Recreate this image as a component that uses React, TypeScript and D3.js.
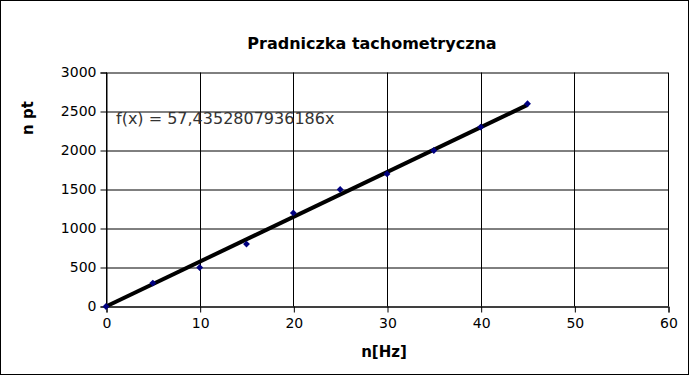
import React, { useRef, useEffect } from "react";
import * as d3 from "d3";

const freq = [0, 5, 10, 15, 20, 25, 30, 35, 40, 45];
const voltage = [0, 300, 500, 800, 1200, 1500, 1700, 2000, 2300, 2600];
const slope = 57.4352807936186;
const xTicks = [0, 10, 20, 30, 40, 50, 60];
const yTicks = [0, 500, 1000, 1500, 2000, 2500, 3000];

const W = 689;
const H = 375;

const App = () => {
  const svgRef = useRef<SVGSVGElement>(null);

  useEffect(() => {
    const margin = { top: 72.5, right: 21, bottom: 68.5, left: 106 };
    const width = W - margin.left - margin.right;
    const height = H - margin.top - margin.bottom;
    const font = "DejaVu Sans, sans-serif";

    const svg = d3.select(svgRef.current);
    svg.selectAll("*").remove();

    // frame around the whole chart
    svg
      .append("rect")
      .attr("x", 0.5)
      .attr("y", 0.5)
      .attr("width", W - 1)
      .attr("height", H - 1)
      .attr("fill", "white")
      .attr("stroke", "black");

    const x = d3.scaleLinear().domain([0, 60]).range([0, width]);
    const y = d3.scaleLinear().domain([0, 3000]).range([height, 0]);

    const g = svg
      .append("g")
      .attr("transform", `translate(${margin.left},${margin.top})`);

    // grid
    g.append("g")
      .selectAll("line")
      .data(yTicks)
      .join("line")
      .attr("x1", 0)
      .attr("x2", width)
      .attr("y1", (d) => Math.round(y(d)) + 0.5)
      .attr("y2", (d) => Math.round(y(d)) + 0.5)
      .attr("stroke", "black");
    g.append("g")
      .selectAll("line")
      .data(xTicks)
      .join("line")
      .attr("y1", 0)
      .attr("y2", height)
      .attr("x1", (d) => Math.round(x(d)) + 0.5)
      .attr("x2", (d) => Math.round(x(d)) + 0.5)
      .attr("stroke", "black");

    const xAxis = g
      .append("g")
      .attr("transform", `translate(0.5,${height})`)
      .call(
        d3.axisBottom(x).tickValues(xTicks).tickFormat(d3.format("d")).tickSize(6).tickPadding(6)
      );
    const yAxis = g
      .append("g")
      .attr("transform", `translate(0.5,0)`)
      .call(
        d3.axisLeft(y).tickValues(yTicks).tickFormat(d3.format("d")).tickSize(6).tickPadding(4)
      );
    [xAxis, yAxis].forEach((a) => {
      a.select(".domain").attr("stroke", "black");
      a.selectAll(".tick line").attr("stroke", "black");
      a.selectAll(".tick text")
        .attr("fill", "#000")
        .style("font-family", font)
        .style("font-size", "14px");
    });

    // trendline
    g.append("path")
      .datum([0, d3.max(freq) as number])
      .attr("fill", "none")
      .attr("stroke", "black")
      .attr("stroke-width", 4)
      .attr(
        "d",
        d3
          .line<number>()
          .x((d) => x(d))
          .y((d) => y(d * slope))
      );

    // markers
    g.append("g")
      .selectAll("path")
      .data(freq)
      .join("path")
      .attr("transform", (d, i) => `translate(${x(d)},${y(voltage[i])})`)
      .attr("d", d3.symbol(d3.symbolDiamond2, 30)() as string)
      .attr("fill", "#000080");

    g.append("text")
      .attr("x", 10)
      .attr("y", y(2500) + 12)
      .attr("fill", "#333")
      .style("font-family", font)
      .style("font-size", "16px")
      .text(`f(x) = ${String(slope).replace(".", ",")}x`);

    svg
      .append("text")
      .attr("x", 372)
      .attr("y", 49)
      .attr("text-anchor", "middle")
      .style("font-family", font)
      .style("font-size", "16px")
      .style("font-weight", "bold")
      .text("Pradniczka tachometryczna");

    svg
      .append("text")
      .attr("x", 384)
      .attr("y", 357)
      .attr("text-anchor", "middle")
      .style("font-family", font)
      .style("font-size", "15px")
      .style("font-weight", "bold")
      .text("n[Hz]");

    svg
      .append("text")
      .attr("transform", "translate(33,118) rotate(-90)")
      .attr("text-anchor", "middle")
      .style("font-family", font)
      .style("font-size", "15px")
      .style("font-weight", "bold")
      .text("n pt");
  }, []);

  return (
    <div style={{ position: "fixed", left: 0, top: 0 }}>
      <svg ref={svgRef} width={W} height={H} style={{ display: "block" }} />
    </div>
  );
};

export default App;
